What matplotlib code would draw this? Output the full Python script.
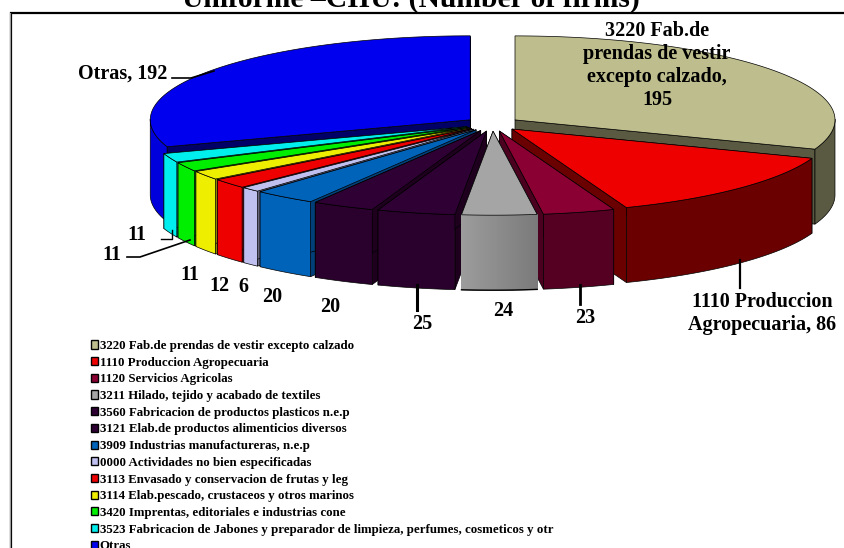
import numpy as np
import matplotlib
matplotlib.use('Agg')
import matplotlib.pyplot as plt
from matplotlib.patches import Patch

plt.rcParams['font.family'] = ['Liberation Serif', 'DejaVu Serif']
plt.rcParams['font.weight'] = 'bold'

# firms per activity, in pie order
categories = ['3220 Fab.de prendas de vestir excepto calzado',
              '1110 Produccion Agropecuaria',
              '1120 Servicios Agricolas',
              '3211 Hilado, tejido y acabado de textiles',
              '3560 Fabricacion de productos plasticos n.e.p',
              '3121 Elab.de productos alimenticios diversos',
              '3909 Industrias manufactureras, n.e.p',
              '0000 Actividades no bien especificadas',
              '3113 Envasado y conservacion de frutas y leg',
              '3114 Elab.pescado, crustaceos y otros marinos',
              '3420 Imprentas, editoriales e industrias cone',
              '3523 Fabricacion de Jabones y preparador de limpieza, perfumes, cosmeticos y otr',
              'Otras']
values = [195, 86, 23, 24, 25, 20, 20, 6, 12, 11, 11, 11, 192]

legend_colors = ['#BDBD8D', '#EE0000', '#8B0033', '#A5A5A5', '#2E0033', '#2E0033', '#0063BA',
                 '#C0C0F0', '#EE0000', '#EEEE00', '#00EE00', '#00EEEE', '#0000EE']
rim_colors = ['#5A5A42', '#6B0000', '#550022', '#888888', '#2A002C', '#2A002C', '#0063BA',
              '#C0C0F0', '#EE0000', '#EEEE00', '#00EE00', '#00EEEE', '#0000DD']
cut_colors = ['#5A5A42', '#6B0000', '#4A001E', '#555555', '#1E001E', '#1E001E', '#003F77',
              '#666680', '#880000', '#888800', '#008800', '#008888', '#000066']

# pie geometry, in pixels of the 844x548 image
cx, cy = 492.5, 124
rx, ry = 320, 84
depth = 75
explode = 27.4

fig = plt.figure(figsize=(8.44, 5.48), dpi=100)
ax = fig.add_axes([0, 0, 1, 1])
ax.set_xlim(0, 844)
ax.set_ylim(548, 0)
ax.axis('off')

# frame
ax.plot([844, 11, 11], [13, 13, 548], color='black', lw=1.6, solid_joinstyle='miter')
ax.plot([9.5, 9.5], [13, 548], color='#999999', lw=0.8)

edges = np.cumsum([0] + values) / sum(values) * 2 * np.pi


def point(ax0, ay0, t):
    return ax0 + rx * np.sin(t), ay0 - ry * np.cos(t)


slices = []
for i in range(len(values)):
    mid = (edges[i] + edges[i + 1]) / 2
    x0 = cx + explode * np.sin(mid)
    y0 = cy - explode * ry / rx * np.cos(mid)
    slices.append((i, x0, y0, mid))

# back slices first, so the front ones paint over them
for i, x0, y0, mid in sorted(slices, key=lambda s: s[2] - ry * np.cos(s[3])):
    t = np.linspace(edges[i], edges[i + 1], 80)
    xs, ys = point(x0, y0, t)

    # cut faces towards the viewer
    for tc in (edges[i], edges[i + 1]):
        xe, ye = point(x0, y0, tc)
        ax.fill([x0, xe, xe, x0], [y0, ye, ye + depth, y0 + depth],
                color=cut_colors[i], ec='black', lw=0.5)

    # outer rim, only the part facing front
    front = np.cos(t) < 0.02
    if front.any():
        rim_x = xs[front]
        rim_y = ys[front]
        ax.fill(np.r_[rim_x, rim_x[::-1]], np.r_[rim_y, rim_y[::-1] + depth],
                color=rim_colors[i], ec='black', lw=0.5)
        if categories[i].startswith('3211'):
            # the grey slice has a soft gradient on its rim, darker to the right
            for k in range(len(rim_x) - 1):
                g = 0.48 + 0.13 * k / (len(rim_x) - 2)
                ax.fill([rim_x[k], rim_x[k + 1], rim_x[k + 1], rim_x[k]],
                        [rim_y[k], rim_y[k + 1], rim_y[k + 1] + depth, rim_y[k] + depth],
                        color=(g, g, g), lw=0, antialiased=False)
            ax.plot(rim_x, rim_y + depth, color='black', lw=1.0)

    # top face
    ax.fill(np.r_[x0, xs], np.r_[y0, ys], color=legend_colors[i], ec='black', lw=0.5)

# data labels
label_size = 14.5
ax.text(657, 65.5, '3220 Fab.de\nprendas de vestir\nexcepto calzado,\n195', ha='center', va='center',
        fontsize=label_size, linespacing=1.2)
ax.text(762, 313.5, '1110 Produccion\nAgropecuaria, 86', ha='center', va='center',
        fontsize=label_size, linespacing=1.2)
ax.text(167, 74, 'Otras, 192', ha='right', va='center', fontsize=label_size)
small_labels = ['11', '11', '11', '12', '6', '20', '20', '25', '24', '23']
small_x = [137, 112, 190, 219, 243, 272, 330, 422, 503, 585]
small_y = [235, 255, 275, 286, 287, 297, 307, 324, 311, 318]
for lab, lx, ly in zip(small_labels, small_x, small_y):
    ax.text(lx, ly, lab, ha='center', va='center', fontsize=label_size)

# leader lines
ax.plot([172, 191, 214], [78, 78, 71], color='black', lw=1.2)
ax.plot([161, 172, 172], [239, 239, 230], color='black', lw=1.0)
ax.plot([127, 140, 190], [257, 257, 240], color='black', lw=1.2)
ax.plot([417, 417], [285, 310], color='black', lw=2.2)
ax.plot([580, 580], [285, 304], color='black', lw=2.0)
ax.plot([740, 740], [260, 288], color='black', lw=1.6)

# title runs off the top of the picture
ax.text(411, 7, 'Uniforme \u2013CIIU: (Number of firms)', ha='center', va='baseline',
        fontsize=21.3, clip_on=False)

handles = [Patch(facecolor=c, edgecolor='black', lw=1.0, label=n)
           for c, n in zip(legend_colors, categories)]
ax.legend(handles=handles, loc='upper left', bbox_to_anchor=(90.5 / 844, 1 - 340 / 548),
          frameon=False, fontsize=9.25, handlelength=0.6, handleheight=0.6,
          handletextpad=0.12, labelspacing=0.365, borderpad=0, borderaxespad=0)

fig.savefig('out.png', dpi=100)
